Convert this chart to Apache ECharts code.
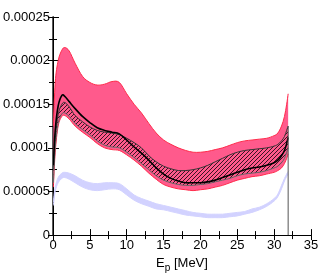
<!DOCTYPE html>
<html>
<head>
<meta charset="utf-8">
<script src="https://cdn.jsdelivr.net/npm/echarts@6/dist/echarts.min.js"></script>
<style>html,body{margin:0;padding:0;background:#fff}#c{width:322px;height:278px}</style>
</head>
<body>
<div id="c"></div>
<script>
// Proton energy grid (MeV)
var energies = [0.05, 0.3, 0.7, 1.2, 1.6, 2.2, 3, 4, 5, 6, 7, 8, 9, 10, 11, 12, 13, 14, 15, 16, 17, 18, 19, 20, 21, 22, 23, 24, 25, 26, 27, 28, 29, 30, 30.5, 31, 31.4, 31.7, 31.9];
// Pink band (upper / lower)
var pinkUpper = [0.000125, 0.000175, 0.0002, 0.000212, 0.000215, 0.000211, 0.000197, 0.000182, 0.000175, 0.000172, 0.000173, 0.000176, 0.000175, 0.000162, 0.00015, 0.00014, 0.000128, 0.000117, 0.000109, 0.000104, 0.0001, 0.000097, 0.000095, 0.000095, 0.000096, 0.000098, 0.0001, 0.000103, 0.000106, 0.000108, 0.000109, 0.00011, 0.000111, 0.000114, 0.000117, 0.000125, 0.000136, 0.00015, 0.000162];
var pinkLower = [0.000055, 0.000095, 0.000125, 0.000136, 0.000137, 0.000133, 0.000125, 0.000118, 0.000112, 0.000105, 0.0001, 0.000098, 0.000097, 0.000092, 0.000086, 0.000079, 0.000071, 0.000064, 0.000058, 0.000055, 0.000053, 0.000052, 0.000051, 0.000052, 0.000053, 0.000055, 0.000057, 0.00006, 0.000063, 0.000065, 0.000067, 0.000068, 0.00007, 0.000072, 0.000074, 0.000077, 0.000082, 0.000088, 0.000093];
// Hatched band (upper / lower)
var hatchUpper = [0.000075, 0.00011, 0.000138, 0.00015, 0.000152, 0.000147, 0.000137, 0.00013, 0.000124, 0.00012, 0.000118, 0.000117, 0.000115, 0.000111, 0.000106, 0.0001, 0.000091, 0.000084, 0.000079, 0.000076, 0.000074, 0.000074, 0.000075, 0.000077, 0.00008, 0.000084, 0.000088, 0.000092, 0.000095, 0.000097, 0.000098, 0.000099, 0.0001, 0.000102, 0.000104, 0.000108, 0.000113, 0.00012, 0.000125];
var hatchLower = [0.00006, 0.0001, 0.000128, 0.000139, 0.00014, 0.000136, 0.000128, 0.000121, 0.000115, 0.000108, 0.000103, 0.000101, 0.0001, 0.000095, 0.000089, 0.000082, 0.000075, 0.000068, 0.000063, 0.00006, 0.000058, 0.000057, 0.000057, 0.000058, 0.000059, 0.000061, 0.000063, 0.000065, 0.000068, 0.00007, 0.000071, 0.000072, 0.000074, 0.000077, 0.000079, 0.000083, 0.000088, 0.000095, 0.0001];
// Black central curve
var blackLine = [0.00008, 0.00012, 0.000148, 0.00016, 0.000159, 0.000153, 0.000145, 0.000136, 0.000129, 0.000123, 0.00012, 0.000118, 0.000116, 0.000109, 0.000101, 0.000094, 0.000086, 0.000077, 0.00007, 0.000065, 0.000062, 0.00006, 0.00006, 0.00006, 0.000061, 0.000063, 0.000066, 0.000069, 0.000072, 0.000075, 0.000077, 0.000078, 0.00008, 0.000083, 0.000086, 0.000091, 0.000097, 0.000105, 0.000112];
// Lavender band (upper / lower)
var lavUpper = [0.000038, 0.000055, 0.000066, 0.000071, 0.000072, 0.000071, 0.000068, 0.000063, 0.00006, 0.000059, 0.00006, 0.00006, 0.000059, 0.000053, 0.000046, 0.000042, 0.000039, 0.000036, 0.000034, 0.000032, 0.00003, 0.000028, 0.000026, 0.000025, 0.000024, 0.000024, 0.000024, 0.000025, 0.000026, 0.000027, 0.00003, 0.000032, 0.000036, 0.000042, 0.000047, 0.000057, 0.000065, 0.00007, 0.000073];
var lavLower = [0.000034, 0.00005, 0.00006, 0.000065, 0.000066, 0.000064, 0.00006, 0.000055, 0.000052, 0.000051, 0.000052, 0.000053, 0.000052, 0.000046, 0.00004, 0.000036, 0.000033, 0.00003, 0.000029, 0.000027, 0.000025, 0.000023, 0.000022, 0.000021, 0.00002, 0.00002, 0.00002, 0.000021, 0.000022, 0.000024, 0.000026, 0.000029, 0.000033, 0.000039, 0.000044, 0.000053, 0.000062, 0.000067, 0.00007];
// Vertical marker
var markerE = 31.9;
var markerTop = 0.000125;
var xTicks = [0, 5, 10, 15, 20, 25, 30, 35];
var yTicks = ['0', '0.00005', '0.0001', '0.00015', '0.0002', '0.00025'];

var pc = document.createElement('canvas');
pc.width = 4; pc.height = 4;
var g = pc.getContext('2d');
g.fillStyle = '#ff5a8c'; g.fillRect(0, 0, 4, 4);
g.strokeStyle = '#3a1424'; g.lineWidth = 1;
g.beginPath();
g.moveTo(-1, 5); g.lineTo(5, -1);
g.moveTo(-1, 1); g.lineTo(1, -1);
g.moveTo(3, 5); g.lineTo(5, 3);
g.stroke();

function toPx(api, vals) {
  return energies.map(function (e, i) { return api.coord([e, vals[i]]); });
}
function curve(pts, start) {
  var d = (start ? 'M' : 'L') + pts[0][0].toFixed(2) + ',' + pts[0][1].toFixed(2);
  var t = 1 / 6;
  for (var i = 0; i < pts.length - 1; i++) {
    var p0 = pts[i - 1] || pts[i], p1 = pts[i], p2 = pts[i + 1], p3 = pts[i + 2] || pts[i + 1];
    var c1x = p1[0] + (p2[0] - p0[0]) * t, c1y = p1[1] + (p2[1] - p0[1]) * t;
    var c2x = p2[0] - (p3[0] - p1[0]) * t, c2y = p2[1] - (p3[1] - p1[1]) * t;
    d += 'C' + c1x.toFixed(2) + ',' + c1y.toFixed(2) + ' ' + c2x.toFixed(2) + ',' + c2y.toFixed(2) + ' ' + p2[0].toFixed(2) + ',' + p2[1].toFixed(2);
  }
  return d;
}
function bandSeries(up, lo, fill, upStroke, loStroke, z) {
  return {
    type: 'custom', coordinateSystem: 'cartesian2d', data: [[0, 0]], silent: true, z: z, clip: true,
    renderItem: function (params, api) {
      var U = toPx(api, up), L = toPx(api, lo);
      var Lr = L.slice().reverse();
      var children = [{
        type: 'path', shape: {pathData: curve(U, true) + curve(Lr, false) + 'Z'},
        style: {fill: fill, stroke: null}
      }];
      if (upStroke) children.push({type: 'path', shape: {pathData: curve(U, true)}, style: {fill: null, stroke: upStroke.color, lineWidth: upStroke.width}});
      if (loStroke) children.push({type: 'path', shape: {pathData: curve(L, true)}, style: {fill: null, stroke: loStroke.color, lineWidth: loStroke.width}});
      return {type: 'group', children: children};
    }
  };
}
function lineSeries(vals, color, width, z) {
  return {
    type: 'custom', coordinateSystem: 'cartesian2d', data: [[0, 0]], silent: true, z: z, clip: true,
    renderItem: function (params, api) {
      return {type: 'path', shape: {pathData: curve(toPx(api, vals), true)}, style: {fill: null, stroke: color, lineWidth: width}};
    }
  };
}

var FONT = '"Liberation Sans", Arial, sans-serif';
var chart = echarts.init(document.getElementById('c'), null, {renderer: 'canvas'});
var yFmt = function (v) { return String(parseFloat(Number(v).toPrecision(6))); };

chart.setOption({
  animation: false,
  grid: {left: 53, right: 11, top: 17, bottom: 40, containLabel: false},
  xAxis: [{
    type: 'value', min: xTicks[0], max: xTicks[xTicks.length - 1], interval: 5, position: 'bottom',
    axisLine: {lineStyle: {color: '#000', width: 1}},
    axisTick: {inside: true, length: 6, lineStyle: {color: '#000'}},
    minorTick: {show: true, splitNumber: 2, length: 4, lineStyle: {color: '#000'}},
    splitLine: {show: false},
    axisLabel: {color: '#000', fontSize: 13, fontFamily: FONT, margin: 4},
    name: '{a|E}{b|p}{a| [MeV]}', nameLocation: 'middle', nameGap: 18,
    nameTextStyle: {rich: {
      a: {fontSize: 13, fontFamily: FONT, color: '#000', verticalAlign: 'top', lineHeight: 16},
      b: {fontSize: 10, fontFamily: FONT, color: '#000', verticalAlign: 'top', lineHeight: 16, padding: [6, 0, 0, 0]}
    }}
  }, {
    type: 'value', min: 0, max: 35, interval: 5, position: 'top',
    axisLine: {show: true, lineStyle: {color: '#000', width: 1}},
    axisTick: {inside: true, length: 5, lineStyle: {color: '#000'}},
    minorTick: {show: true, splitNumber: 2, length: 4, lineStyle: {color: '#000'}},
    splitLine: {show: false}, axisLabel: {show: false}
  }],
  yAxis: [{
    type: 'value', min: 0, max: 0.00025, interval: 0.00005, position: 'left',
    axisLine: {show: true, lineStyle: {color: '#222', width: 1.5}},
    axisTick: {inside: true, length: 6, lineStyle: {color: '#000'}},
    minorTick: {show: true, splitNumber: 2, length: 4, lineStyle: {color: '#000'}},
    splitLine: {show: false},
    axisLabel: {color: '#000', fontSize: 13, fontFamily: FONT, margin: 3, formatter: yFmt}
  }, {
    type: 'value', min: 0, max: 0.00025, interval: 0.00005, position: 'right',
    axisLine: {show: true, lineStyle: {color: '#000', width: 1}},
    axisTick: {inside: true, length: 5, lineStyle: {color: '#000'}},
    minorTick: {show: true, splitNumber: 2, length: 4, lineStyle: {color: '#000'}},
    splitLine: {show: false}, axisLabel: {show: false}
  }],
  series: [
    bandSeries(lavUpper, lavLower, '#d2d2ff', {color: '#d2d2ff', width: 1}, {color: '#d2d2ff', width: 1}, 1),
    bandSeries(pinkUpper, pinkLower, '#ff5a8c', {color: '#ff2a4a', width: 1}, {color: '#ff2a4a', width: 1}, 2),
    bandSeries(hatchUpper, hatchLower, {image: pc, repeat: 'repeat'}, {color: '#333', width: 1}, {color: '#666', width: 1}, 3),
    lineSeries(blackLine, '#000', 1.6, 4),
    {type: 'line', data: [[markerE, 0], [markerE, markerTop]], showSymbol: false, symbol: 'none', silent: true, animation: false, lineStyle: {color: '#555', width: 1}, z: 5}
  ]
});
</script>
</body>
</html>
